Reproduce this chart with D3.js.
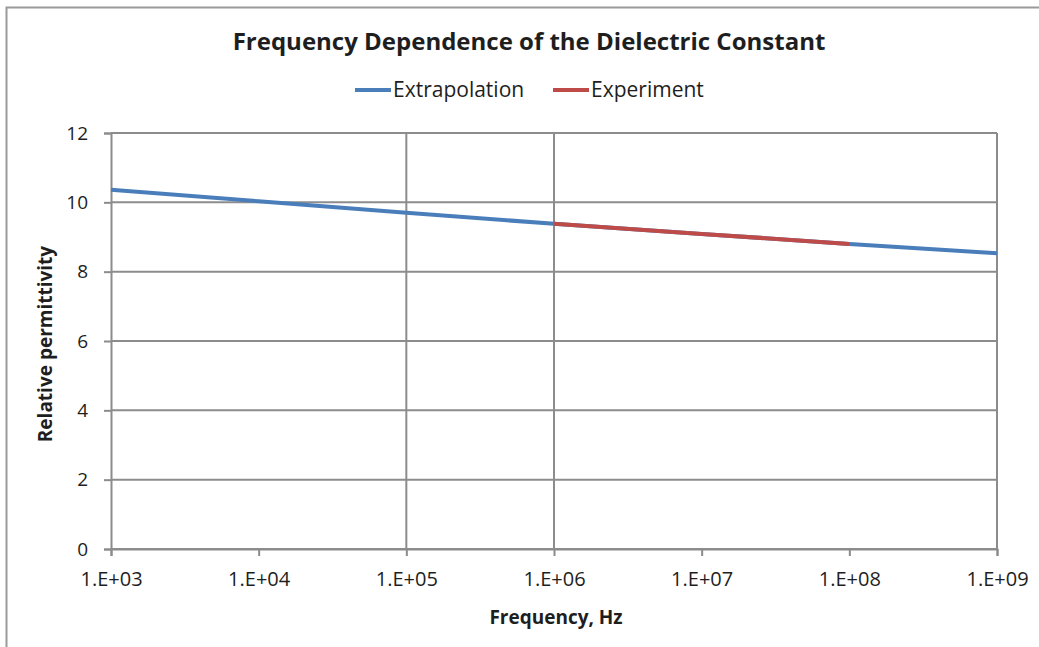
<!DOCTYPE html>
<html>
<head>
<meta charset="utf-8">
<script src="https://cdn.jsdelivr.net/npm/d3@7"></script>
<style>
  html, body { margin: 0; padding: 0; background: #fff; }
  svg { display: block; font-family: "Open Sans", "Liberation Sans", sans-serif; }
</style>
</head>
<body>
<svg id="chart" width="1039" height="647"></svg>
<script>
// Frequency decades (Hz) and relative permittivity readings
const frequencies = [1e3, 1e4, 1e5, 1e6, 1e7, 1e8, 1e9];
const extrapolation = [10.36, 10.03, 9.70, 9.38, 9.09, 8.80, 8.53];
const experimentFreq = [1e6, 1e7, 1e8];
const experiment = [9.38, 9.09, 8.80];
const xTickLabels = ["1.E+03", "1.E+04", "1.E+05", "1.E+06", "1.E+07", "1.E+08", "1.E+09"];
const yTicks = [0, 2, 4, 6, 8, 10, 12];
const xGridDecades = [1e5, 1e6];
const seriesNames = ["Extrapolation", "Experiment"];
const seriesColors = ["#4a7ebb", "#be4b48"];

const svg = d3.select("#chart");
const margin = { left: 111, right: 42, top: 133, bottom: 98 };
const W = 1039, H = 647;
const plotW = W - margin.left - margin.right;
const plotH = H - margin.top - margin.bottom;

const x = d3.scaleLog().domain([1e3, 1e9]).range([margin.left, margin.left + plotW]);
const y = d3.scaleLinear().domain([0, 12]).range([margin.top + plotH, margin.top]);

const gridColor = "#8c8c8c";
const textColor = "#1e1e1e";
const fontStack = "Open Sans, Liberation Sans, sans-serif";

// chart area border
svg.append("rect")
  .attr("x", 6.5).attr("y", 7.5)
  .attr("width", W + 10).attr("height", H + 10)
  .attr("fill", "none").attr("stroke", "#9a9a9a").attr("stroke-width", 2);

// horizontal gridlines
svg.append("g").selectAll("line").data(yTicks).join("line")
  .attr("x1", margin.left).attr("x2", margin.left + plotW)
  .attr("y1", d => y(d)).attr("y2", d => y(d))
  .attr("stroke", gridColor).attr("stroke-width", 2);

// vertical gridlines and right plot edge
svg.append("g").selectAll("line").data(xGridDecades.concat([1e9])).join("line")
  .attr("x1", d => x(d)).attr("x2", d => x(d))
  .attr("y1", margin.top).attr("y2", margin.top + plotH)
  .attr("stroke", gridColor).attr("stroke-width", 2);

// y axis
const yAxis = d3.axisLeft(y).tickValues(yTicks).tickSize(7).tickPadding(16).tickFormat(d3.format("d"));
const gy = svg.append("g").attr("transform", `translate(${margin.left},0)`).call(yAxis);
gy.select(".domain").attr("stroke", gridColor).attr("stroke-width", 2);
gy.selectAll(".tick line").attr("stroke", gridColor).attr("stroke-width", 2);
gy.selectAll(".tick text").attr("font-size", 19).attr("fill", textColor)
  .attr("font-family", fontStack);

// x axis
const xAxis = d3.axisBottom(x).tickValues(frequencies).tickSize(7).tickPadding(16)
  .tickFormat((d, i) => xTickLabels[i]);
const gx = svg.append("g").attr("transform", `translate(0,${margin.top + plotH})`).call(xAxis);
gx.select(".domain").attr("stroke", gridColor).attr("stroke-width", 2);
gx.selectAll(".tick line").attr("stroke", gridColor).attr("stroke-width", 2);
gx.selectAll(".tick text").attr("font-size", 20).attr("fill", textColor)
  .attr("font-family", fontStack);

// series lines
const line = d3.line().x(d => x(d[0])).y(d => y(d[1]));
svg.append("path")
  .datum(frequencies.map((f, i) => [f, extrapolation[i]]))
  .attr("d", line).attr("fill", "none")
  .attr("stroke", seriesColors[0]).attr("stroke-width", 4);
svg.append("path")
  .datum(experimentFreq.map((f, i) => [f, experiment[i]]))
  .attr("d", line).attr("fill", "none")
  .attr("stroke", seriesColors[1]).attr("stroke-width", 4);

// title
svg.append("text")
  .attr("x", 529).attr("y", 50)
  .attr("text-anchor", "middle")
  .attr("font-size", 24).attr("font-weight", "bold").attr("fill", textColor)
  .text("Frequency Dependence of the Dielectric Constant");

// legend
const legendItems = [
  { name: seriesNames[0], color: seriesColors[0], x: 355 },
  { name: seriesNames[1], color: seriesColors[1], x: 553 }
];
const lg = svg.append("g");
legendItems.forEach(it => {
  lg.append("line")
    .attr("x1", it.x).attr("x2", it.x + 36)
    .attr("y1", 90).attr("y2", 90)
    .attr("stroke", it.color).attr("stroke-width", 4);
  lg.append("text")
    .attr("x", it.x + 38).attr("y", 97)
    .attr("font-size", 21).attr("fill", textColor)
    .text(it.name);
});

// axis titles
svg.append("text")
  .attr("x", 556).attr("y", 624)
  .attr("text-anchor", "middle")
  .attr("font-size", 19).attr("font-weight", "bold").attr("fill", textColor)
  .text("Frequency, Hz");

svg.append("text")
  .attr("transform", `translate(52,${margin.top + plotH / 2 + 3}) rotate(-90)`)
  .attr("text-anchor", "middle")
  .attr("font-size", 19).attr("font-weight", "bold").attr("fill", textColor)
  .text("Relative permittivity");
</script>
</body>
</html>
